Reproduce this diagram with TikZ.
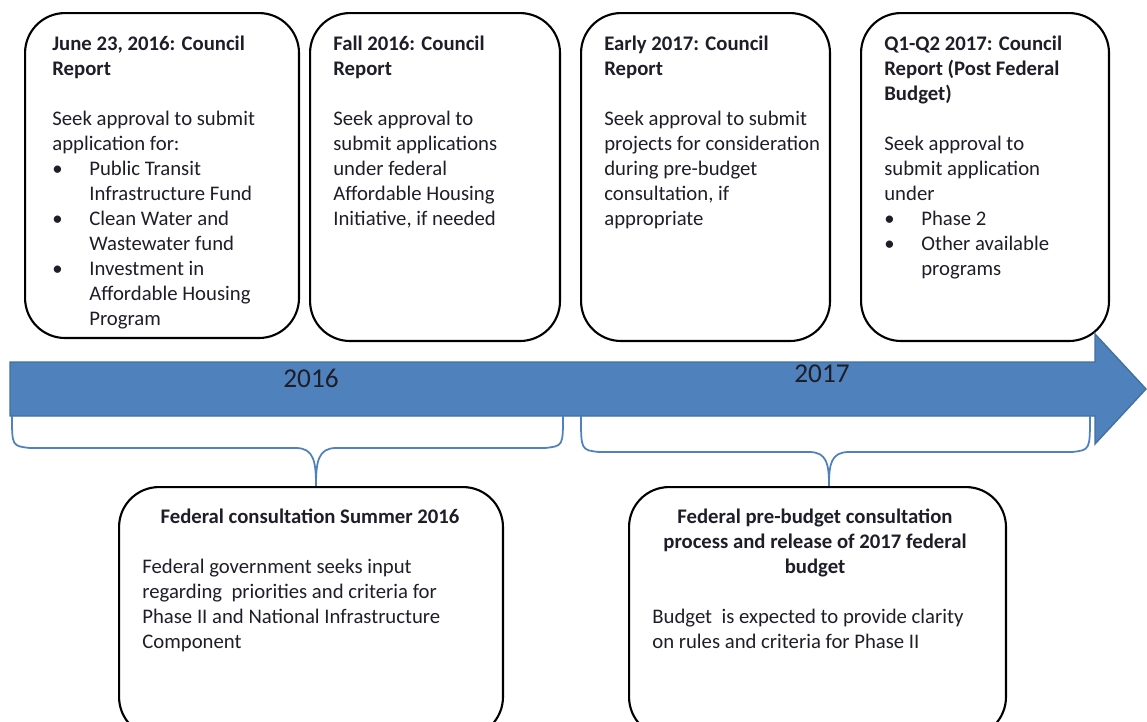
\documentclass[tikz,border=0pt]{standalone}
\usepackage{fontspec}
\setmainfont{Carlito}
\usetikzlibrary{positioning}
\definecolor{barblue}{HTML}{4F81BD}
\definecolor{baredge}{HTML}{41719C}
\definecolor{ink}{HTML}{1E1E28}
\newcommand{\bul}[1]{\makebox[0.74cm][l]{\textbullet}#1}
\newcommand{\cont}[1]{\hspace*{0.74cm}#1}
\begin{document}
\begin{tikzpicture}[x=0.02cm, y=-0.02cm,
  report box/.style={draw=black, line width=1.2pt, rounded corners=0.8cm, anchor=north west, inner sep=0pt},
  box text/.style={anchor=north west, inner sep=0pt, align=left, text=ink, font=\fontsize{11.8}{14.2}\selectfont},
  year label/.style={text=ink, inner sep=0pt, font=\fontsize{15.5}{18}\selectfont},
  brace line/.style={draw=barblue, line width=1pt}]
\useasboundingbox (0,0) rectangle (1147,721);
% council report boxes
\node[report box, minimum width=5.48cm, minimum height=6.5cm] (r1) at (24,12) {};
\node[report box, minimum width=5.0cm, minimum height=6.56cm] (r2) at (309,12) {};
\node[report box, minimum width=4.98cm, minimum height=6.56cm] (r3) at (580,12) {};
\node[report box, minimum width=4.96cm, minimum height=6.56cm] (r4) at (860,12) {};
\node[box text] (t1) at (52,36) {\textbf{June 23, 2016: Council}\\ \textbf{Report}\\[14.2pt]
  Seek approval to submit\\ application for:\\
  \bul{Public Transit}\\ \cont{Infrastructure Fund}\\
  \bul{Clean Water and}\\ \cont{Wastewater fund}\\
  \bul{Investment in}\\ \cont{Affordable Housing}\\ \cont{Program}};
\node[box text] (t2) at (333,36) {\textbf{Fall 2016: Council}\\ \textbf{Report}\\[14.2pt]
  Seek approval to\\ submit applications\\ under federal\\ Affordable Housing\\ Initiative, if needed};
\node[box text] (t3) at (604,36) {\textbf{Early 2017: Council}\\ \textbf{Report}\\[14.2pt]
  Seek approval to submit\\ projects for consideration\\ during pre-budget\\ consultation, if\\ appropriate};
\node[box text] (t4) at (884,36) {\textbf{Q1-Q2 2017: Council}\\ \textbf{Report (Post Federal}\\ \textbf{Budget)}\\[14.2pt]
  Seek approval to\\ submit application\\ under\\
  \bul{Phase 2}\\ \bul{Other available}\\ \cont{programs}};
% timeline arrow
\fill[barblue, draw=baredge, line width=0.8pt] (10,362) -- (1095,362) -- (1095,334) -- (1146,389)
  -- (1095,444) -- (1095,416) -- (10,416) -- cycle;
\node[year label] (y16) at (311,378) {2016};
\node[year label] (y17) at (822,374) {2017};
% braces
\draw[brace line] (12,416) .. controls (12,446) .. (30,448) -- (296,448)
  .. controls (314,448) and (316,462) .. (316,486)
  .. controls (316,462) and (318,448) .. (336,448) -- (545,448) .. controls (563,446) .. (563,416);
\draw[brace line] (581,416) .. controls (581,450) .. (599,452) -- (809,452)
  .. controls (827,452) and (829,464) .. (829,486)
  .. controls (829,464) and (831,452) .. (849,452) -- (1072,452) .. controls (1090,450) .. (1090,416);
% federal boxes
\node[report box, minimum width=7.68cm, minimum height=5.0cm] (f1) at (118,486) {};
\node[report box, minimum width=7.54cm, minimum height=5.0cm] (f2) at (628,486) {};
\node[box text, anchor=north, align=center] (h1) at (310,509) {\textbf{Federal consultation Summer 2016}};
\node[box text] (s1) at (142,559) {Federal government seeks input\\ regarding \ priorities and criteria for\\ Phase II and National Infrastructure\\ Component};
\node[box text, anchor=north, align=center] (h2) at (815,509) {\textbf{Federal pre-budget consultation}\\ \textbf{process and release of 2017 federal}\\ \textbf{budget}};
\node[box text] (s2) at (652,609) {Budget \ is expected to provide clarity\\ on rules and criteria for Phase II};
\end{tikzpicture}
\end{document}
